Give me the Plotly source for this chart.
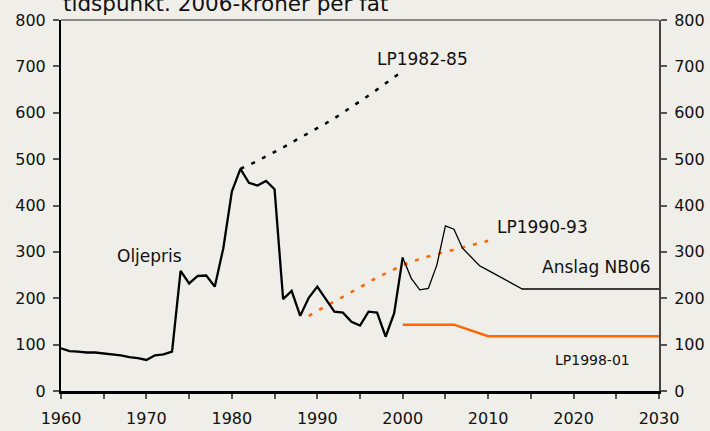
import plotly.graph_objects as go

# ---- data ----
oil_years = list(range(1960, 2001))
oil_values = [92, 86, 85, 83, 83, 81, 79, 77, 73, 71, 67, 77, 79, 85, 259, 232, 248, 249,
              225, 308, 430, 479, 449, 443, 453, 435, 198, 216, 162, 201, 225, 198, 171,
              169, 149, 141, 171, 169, 117, 168, 288]

nb06_years = list(range(2000, 2015)) + [2030]
nb06_values = [288, 243, 218, 221, 272, 356, 349, 308, 289, 270, 260, 250, 240, 230, 220, 220]

lp8285_years = list(range(1981, 2001))
lp8285_values = [479, 487, 496, 506, 515, 525, 536, 546, 556, 566, 577, 588, 600, 612, 625,
                 637, 650, 663, 677, 690]

lp9093_years = list(range(1989, 2011))
lp9093_values = [162, 173, 183, 193, 203, 214, 224, 234, 245, 254, 263, 271, 279, 285, 290,
                 295, 300, 304, 309, 314, 319, 324]

lp9801_years = [2000, 2006, 2010, 2030]
lp9801_values = [143, 143, 118, 118]

x_tickvals = list(range(1960, 2031, 5))
x_ticktext = [str(v) if v % 10 == 0 else "" for v in x_tickvals]
y_tickvals = list(range(0, 801, 100))

title_text = "tidspunkt. 2006-kroner per fat"

FONT = "DejaVu Sans"
BG = "#EFEEE8"
ORANGE = "#FF6600"

fig = go.Figure()
fig.add_trace(go.Scatter(x=lp8285_years, y=lp8285_values, mode="lines",
                         line=dict(color="black", width=2.5, dash="4px,8px"), hoverinfo="skip"))
fig.add_trace(go.Scatter(x=lp9093_years, y=lp9093_values, mode="lines",
                         line=dict(color=ORANGE, width=2.5, dash="4px,8px"), hoverinfo="skip"))
fig.add_trace(go.Scatter(x=lp9801_years, y=lp9801_values, mode="lines",
                         line=dict(color=ORANGE, width=2.5), hoverinfo="skip"))
fig.add_trace(go.Scatter(x=nb06_years, y=nb06_values, mode="lines",
                         line=dict(color="black", width=1.3), yaxis="y2", hoverinfo="skip"))
fig.add_trace(go.Scatter(x=oil_years, y=oil_values, mode="lines",
                         line=dict(color="black", width=2.3), hoverinfo="skip"))

tickfont = dict(family=FONT, size=16, color="#111")
fig.update_layout(
    width=710, height=431,
    margin=dict(l=61, r=51, t=20, b=40),
    paper_bgcolor=BG, plot_bgcolor=BG,
    showlegend=False,
    xaxis=dict(range=[1960, 2030], tickvals=x_tickvals, ticktext=x_ticktext,
               ticks="outside", ticklen=5, tickwidth=1.5, tickcolor="#555",
               showline=True, linecolor="black", linewidth=2.5, automargin=False,
               showgrid=False, zeroline=False, tickfont=tickfont, ticklabelstandoff=6),
    yaxis=dict(range=[0, 800], tickvals=y_tickvals, ticks="outside", ticklen=6,
               tickwidth=1.5, tickcolor="#555", showline=True, linecolor="black",
               linewidth=2, showgrid=False, zeroline=False, tickfont=tickfont,
               ticklabelstandoff=4, automargin=False),
    yaxis2=dict(range=[0, 800], tickvals=y_tickvals, overlaying="y", side="right",
                ticks="outside", ticklen=6, tickwidth=1.5, tickcolor="#555",
                showline=True, linecolor="#444", linewidth=2, showgrid=False,
                zeroline=False, tickfont=tickfont, ticklabelstandoff=4, automargin=False),
)

fig.add_shape(type="line", xref="paper", yref="paper", x0=0, x1=1, y0=1, y1=1,
              line=dict(color="#666", width=1.5))

ann_font = dict(family=FONT, size=17, color="#111")
fig.add_annotation(x=1970.4, y=292, text="Oljepris", showarrow=False, font=ann_font)
fig.add_annotation(x=2002.35, y=715, text="LP1982-85", showarrow=False, font=ann_font)
fig.add_annotation(x=2016.4, y=354, text="LP1990-93", showarrow=False, font=ann_font)
fig.add_annotation(x=2022.7, y=267, text="Anslag NB06", showarrow=False, font=ann_font)
fig.add_annotation(x=2022.2, y=66, text="LP1998-01", showarrow=False,
                   font=dict(family=FONT, size=14, color="#111"))
fig.add_annotation(x=0, y=1, xref="paper", yref="paper", xanchor="left", yanchor="bottom",
                   yshift=2, text=title_text, showarrow=False,
                   font=dict(family=FONT, size=21.5, color="#111"))

fig.write_html("out.html", config={"displayModeBar": False},
               post_script="document.body.style.margin='0';document.body.style.background='%s';" % BG)
